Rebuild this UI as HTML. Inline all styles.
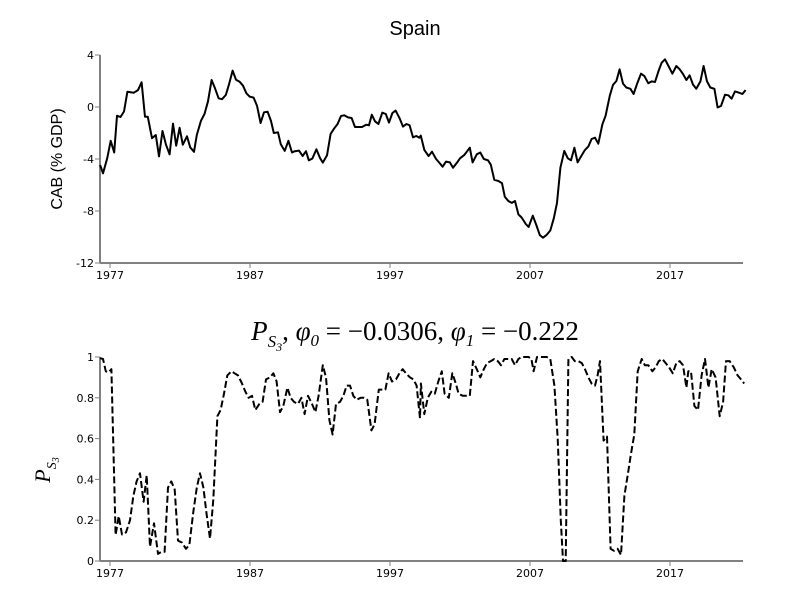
<!DOCTYPE html>
<html><head><meta charset="utf-8"><style>
body{margin:0;background:#fff;width:800px;height:600px;overflow:hidden}
text{font-family:"Liberation Sans",sans-serif;fill:#000}
.tk{font-size:11px;font-family:"DejaVu Sans",sans-serif}
.m{font-family:"Liberation Serif",serif;font-style:italic}
</style></head><body>
<svg id="c" width="800" height="600" xmlns="http://www.w3.org/2000/svg">
<text x="415" y="35" text-anchor="middle" font-size="20">Spain</text>
<text transform="translate(62,159) rotate(-90)" text-anchor="middle" font-size="16">CAB (% GDP)</text>
<text x="415" y="340" text-anchor="middle" font-size="27" class="m">P<tspan font-size="17" dy="7">S<tspan font-size="12" dy="4">3</tspan></tspan><tspan dy="-11" font-style="normal">, </tspan>φ<tspan font-size="17" dy="6">0</tspan><tspan dy="-6" font-style="normal"> = −0.0306, </tspan>φ<tspan font-size="17" dy="6">1</tspan><tspan dy="-6" font-style="normal"> = −0.222</tspan></text>
<text transform="translate(50,470) rotate(-90)" text-anchor="middle" font-size="22" class="m">P<tspan font-size="14" dy="6">S<tspan font-size="10" dy="3">3</tspan></tspan></text>
</svg>
<script>
const cabYears=[1976.29,1976.5,1976.8,1977.05,1977.3,1977.5,1977.75,1978.0,1978.24,1978.7,1979.0,1979.26,1979.5,1979.7,1980.0,1980.27,1980.5,1980.75,1981.0,1981.26,1981.5,1981.73,1981.97,1982.2,1982.5,1982.73,1983.0,1983.2,1983.5,1983.75,1984.0,1984.26,1984.5,1984.76,1985.0,1985.27,1985.5,1985.76,1986.0,1986.26,1986.5,1986.74,1986.97,1987.26,1987.5,1987.76,1988.0,1988.26,1988.5,1988.7,1989.0,1989.2,1989.48,1989.74,1990.0,1990.2,1990.5,1990.76,1991.0,1991.2,1991.45,1991.74,1992.0,1992.2,1992.5,1992.76,1993.0,1993.26,1993.5,1993.73,1994.0,1994.26,1994.5,1995.0,1995.3,1995.5,1995.7,1995.93,1996.17,1996.45,1996.7,1996.93,1997.17,1997.4,1997.7,1997.93,1998.17,1998.4,1998.64,1998.88,1999.1,1999.2,1999.45,1999.76,2000.0,2000.29,2000.5,2000.76,2001.0,2001.28,2001.5,2001.8,2002.0,2002.3,2002.7,2002.9,2003.2,2003.45,2003.7,2004.0,2004.2,2004.45,2004.76,2005.0,2005.2,2005.45,2005.7,2005.93,2006.17,2006.4,2006.7,2006.9,2007.2,2007.45,2007.7,2007.93,2008.17,2008.45,2008.7,2008.93,2009.17,2009.45,2009.7,2009.93,2010.17,2010.4,2010.7,2010.93,2011.17,2011.4,2011.64,2011.88,2012.17,2012.4,2012.7,2012.93,2013.17,2013.4,2013.64,2013.88,2014.17,2014.4,2014.64,2014.93,2015.17,2015.45,2015.69,2015.93,2016.17,2016.4,2016.64,2016.93,2017.17,2017.45,2017.69,2017.93,2018.17,2018.4,2018.64,2018.88,2019.17,2019.4,2019.64,2019.88,2020.17,2020.4,2020.64,2020.93,2021.17,2021.4,2021.64,2021.93,2022.17,2022.4];
const cabValues=[-4.46,-5.1,-3.95,-2.6,-3.5,-0.67,-0.77,-0.35,1.18,1.1,1.3,1.9,-0.75,-0.75,-2.4,-2.15,-3.8,-1.85,-2.9,-3.65,-1.28,-2.98,-1.6,-2.9,-2.25,-3.1,-3.45,-2.15,-1.05,-0.54,0.44,2.08,1.44,0.67,0.6,0.92,1.74,2.8,2.1,1.95,1.64,1.05,0.8,0.72,0.1,-1.23,-0.41,-0.36,-1.08,-2.0,-1.95,-2.87,-3.38,-2.6,-3.5,-3.4,-3.35,-3.77,-3.4,-4.1,-3.97,-3.25,-3.92,-4.28,-3.72,-2.08,-1.67,-1.31,-0.69,-0.64,-0.8,-0.85,-1.54,-1.54,-1.36,-1.41,-0.59,-1.1,-1.31,-0.44,-0.54,-1.2,-0.46,-0.28,-0.9,-1.51,-1.31,-1.41,-2.33,-2.23,-2.36,-2.2,-3.3,-3.77,-3.44,-4.0,-4.26,-4.59,-4.2,-4.26,-4.67,-4.26,-3.95,-3.7,-3.13,-4.26,-3.64,-3.5,-4.0,-4.1,-4.44,-5.6,-5.7,-5.86,-6.9,-7.23,-7.38,-7.23,-8.26,-8.5,-9.0,-9.23,-8.36,-9.08,-9.85,-10.05,-9.85,-9.5,-8.56,-7.38,-4.67,-3.38,-3.95,-4.1,-3.13,-4.26,-3.7,-3.3,-3.03,-2.46,-2.36,-2.82,-1.33,-0.67,0.87,1.7,2.0,2.9,1.8,1.5,1.4,1.0,1.77,2.56,2.38,1.82,1.97,1.92,2.74,3.4,3.67,3.08,2.56,3.15,2.9,2.54,2.08,2.44,1.72,1.41,1.97,3.15,1.97,1.5,1.4,-0.03,0.08,0.95,0.9,0.64,1.2,1.1,1.0,1.3];
const probYears=[1976.29,1976.5,1976.7,1976.9,1977.1,1977.4,1977.62,1977.86,1978.14,1978.43,1978.67,1978.9,1979.14,1979.4,1979.62,1979.86,1980.14,1980.43,1980.67,1980.9,1981.14,1981.38,1981.62,1981.86,1982.14,1982.43,1982.67,1982.95,1983.2,1983.43,1983.67,1983.9,1984.14,1984.38,1984.67,1984.9,1985.14,1985.38,1985.67,1985.9,1986.14,1986.43,1986.67,1986.9,1987.14,1987.38,1987.67,1987.9,1988.14,1988.43,1988.67,1988.9,1989.14,1989.38,1989.67,1989.9,1990.14,1990.43,1990.67,1990.9,1991.14,1991.43,1991.67,1991.9,1992.2,1992.43,1992.67,1992.9,1993.14,1993.43,1993.67,1993.9,1994.14,1994.38,1994.62,1994.9,1995.14,1995.38,1995.67,1995.9,1996.2,1996.43,1996.67,1996.9,1997.14,1997.43,1997.67,1997.9,1998.14,1998.43,1998.67,1998.9,1999.14,1999.21,1999.45,1999.7,1999.95,2000.2,2000.45,2000.7,2000.9,2001.2,2001.45,2001.7,2001.9,2002.2,2002.45,2002.7,2002.93,2003.2,2003.45,2003.7,2003.93,2004.2,2004.45,2004.7,2004.93,2005.17,2005.45,2005.69,2005.93,2006.17,2006.4,2006.9,2007.1,2007.26,2007.5,2007.83,2008.2,2008.45,2008.74,2008.98,2009.2,2009.36,2009.55,2009.74,2009.98,2010.2,2010.45,2010.7,2010.93,2011.17,2011.4,2011.64,2011.83,2012.0,2012.26,2012.5,2012.76,2013.0,2013.26,2013.5,2013.74,2014.0,2014.2,2014.45,2014.69,2014.98,2015.2,2015.45,2015.74,2015.98,2016.2,2016.45,2016.69,2016.93,2017.2,2017.45,2017.69,2017.93,2018.17,2018.31,2018.5,2018.74,2019.0,2019.26,2019.5,2019.74,2019.98,2020.26,2020.55,2020.79,2021.0,2021.26,2021.55,2021.83,2022.07,2022.3];
const probValues=[0.994,0.99,0.93,0.925,0.94,0.127,0.22,0.13,0.14,0.2,0.32,0.39,0.43,0.29,0.42,0.07,0.185,0.035,0.045,0.045,0.36,0.39,0.35,0.1,0.09,0.06,0.08,0.24,0.36,0.43,0.36,0.23,0.11,0.3,0.71,0.74,0.82,0.91,0.93,0.92,0.91,0.87,0.83,0.8,0.81,0.74,0.77,0.78,0.89,0.9,0.92,0.88,0.73,0.76,0.85,0.8,0.78,0.77,0.8,0.72,0.81,0.77,0.73,0.81,0.96,0.9,0.69,0.62,0.77,0.78,0.81,0.86,0.86,0.81,0.79,0.8,0.8,0.79,0.64,0.67,0.84,0.84,0.84,0.92,0.88,0.89,0.92,0.94,0.92,0.9,0.89,0.86,0.7,0.87,0.72,0.8,0.83,0.82,0.88,0.93,0.82,0.8,0.92,0.87,0.82,0.81,0.81,0.81,0.98,0.94,0.9,0.94,0.97,0.98,0.99,0.98,0.96,0.99,0.99,0.99,0.96,0.99,1.0,1.0,0.99,0.93,1.0,1.0,1.0,0.99,0.86,0.6,0.2,0.0,0.0,0.99,1.0,0.98,0.98,0.97,0.94,0.9,0.87,0.86,0.91,0.98,0.59,0.61,0.06,0.05,0.06,0.03,0.32,0.43,0.52,0.62,0.93,0.99,0.96,0.96,0.93,0.95,0.98,0.99,0.97,0.95,0.92,0.97,0.98,0.96,0.85,0.93,0.93,0.76,0.74,0.91,0.99,0.85,0.94,0.9,0.71,0.78,0.98,0.98,0.95,0.91,0.89,0.87];
const xTickLabels=[1977,1987,1997,2007,2017];
const cabTicks=[4,0,-4,-8,-12];
const probTicks=[0,0.2,0.4,0.6,0.8,1];

const svg=document.getElementById('c');
const NS='http://www.w3.org/2000/svg';
const X0=100,X1=743;
const xs=y=>110+(y-1977)*14;
function el(t,a,p){const e=document.createElementNS(NS,t);for(const k in a)e.setAttribute(k,a[k]);(p||svg).appendChild(e);return e;}
function panel(prefix,yTop,yBot,dMin,dMax,ticks,fmt,years,vals,dash){
  const ys=v=>yBot-(v-dMin)/(dMax-dMin)*(yBot-yTop);
  const ax=el('g',{});
  
  
  el('line',{x1:X0,y1:yTop,x2:X0,y2:yBot,stroke:'#808080','stroke-width':2},ax);
  el('line',{x1:X0,y1:yBot,x2:X1,y2:yBot,stroke:'#808080','stroke-width':2},ax);
  ticks.forEach(t=>{
    const y=ys(t);
    el('line',{x1:X0-5,y1:y,x2:X0,y2:y,stroke:'#808080','stroke-width':1},ax);
    const tx=el('text',{x:X0-6,y:y+4,'text-anchor':'end',class:'tk'},ax);
    
    
    tx.textContent=fmt(t);
  });
  xTickLabels.forEach(t=>{
    const x=xs(t);
    el('line',{x1:x,y1:yBot,x2:x,y2:yBot+5,stroke:'#808080','stroke-width':1},ax);
    const tx=el('text',{x:x,y:yBot+16,'text-anchor':'middle',class:'tk'},ax);
    
    
    tx.textContent=t;
  });
  const d=years.map((y,i)=>(i?'L':'M')+xs(y).toFixed(1)+','+ys(vals[i]).toFixed(1)).join('');
  const p=el('path',{d:d,fill:'none',stroke:'#000','stroke-width':2,'stroke-linejoin':'round'});
  if(dash)p.setAttribute('stroke-dasharray','7,3');
  
  
}
panel('top',55,263,-12,4,cabTicks,t=>t,cabYears,cabValues,false);
panel('bottom',357,561,0,1,probTicks,t=>t,probYears,probValues,true);
</script>
</body></html>
